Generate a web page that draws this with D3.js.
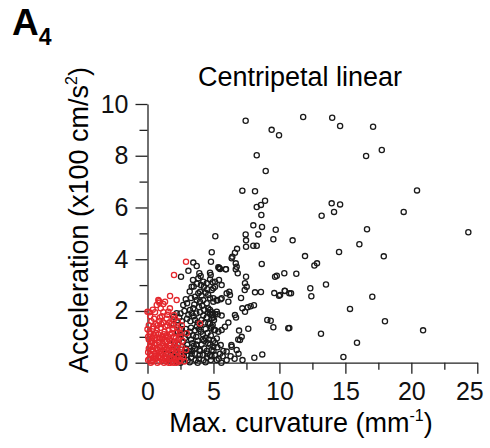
<!DOCTYPE html>
<html>
<head>
<meta charset="utf-8">
<script src="https://cdn.jsdelivr.net/npm/d3@7"></script>
<style>
  body { margin: 0; background: #fff; }
  text { font-family: "Liberation Sans", Arial, sans-serif; }
</style>
</head>
<body>
<div id="app"></div>
<script>
// black: all trials (x = max curvature, y = acceleration)
const blackSparse = [
  [11.8,9.5],[14.0,9.47],[14.6,9.15],[17.1,9.12],[7.44,9.35],[9.41,9.0],[9.97,8.79],[8.28,8.02],
  [17.76,8.22],[16.57,7.99],[8.96,7.41],[7.19,6.65],[8.15,6.63],[20.43,6.66],[8.91,6.26],[8.6,6.1],
  [8.28,6.02],[13.96,6.16],[14.6,6.12],[14.14,5.83],[13.2,5.68],[19.42,5.83],[8.63,5.71],[8.02,5.31],
  [8.68,5.25],[9.72,5.14],[16.64,5.16],[24.32,5.04],[5.14,4.89],[7.44,4.96],[8.4,4.96],[7.47,4.73],
  [9.54,4.77],[11.0,4.73],[16.06,4.58],[7.47,4.48],[8.02,4.52],[8.28,4.52],[4.87,4.27],[6.79,4.4],
  [6.63,4.25],[6.43,4.1],[6.38,4.04],[11.94,4.12],[14.52,4.28],[17.91,4.11],
  [12.65,3.76],[12.85,3.84],[10.37,3.46],[11.28,3.44],[10.4,2.78],[10.88,2.68],[10.05,2.62],
  [12.34,2.88],[13.53,3.02],[12.42,2.57],[17.04,2.55],[15.35,2.08],[10.75,1.34],[13.15,1.12],
  [15.88,0.77],[14.85,0.22],[18.0,1.6],[20.89,1.25]
];
const blackMid = [
  [8.66,3.82],[4.81,3.9],[5.42,3.67],[5.5,3.62],[5.93,3.61],[6.69,3.84],[6.76,3.71],[6.69,3.61],
  [6.84,3.46],[9.67,3.32],[9.8,3.36],[7.47,3.32],[4.79,3.39],[4.94,3.11],[5.42,3.2],[5.62,3.0],
  [7.39,3.07],[7.52,2.94],[7.37,2.81],[8.15,2.72],[8.6,2.73],[9.61,2.69],[9.97,2.59],[10.42,2.77],
  [10.75,2.68],[5.12,2.94],[4.87,2.81],[4.99,2.88],[6.2,2.74],[6.25,2.62],[6.13,2.36],[5.62,2.49],
  [5.29,2.4],[4.99,2.49],[7.09,2.5],[7.19,2.1],[7.6,2.14],[7.82,2.18],[8.07,2.22],[4.74,2.04],
  [5.25,1.97],[4.87,1.84],[5.32,1.87],[5.62,1.82],[4.87,1.72],[5.04,1.65],[4.94,1.46],[4.74,1.52],
  [4.81,1.33],[5.04,1.26],[6.71,1.75],[6.13,1.55],[9.08,1.65],[9.34,1.62],[9.54,1.37],[10.67,1.33],
  [7.64,1.31],[6.94,1.24],[7.14,1.0],[6.88,0.9],[5.25,0.94],[5.12,0.75],[4.99,0.62],[5.55,0.68],
  [5.75,0.45],[6.0,0.43],[6.36,0.68],[8.1,0.19],[8.7,0.32],[4.87,0.49],[4.74,0.3],[7.01,0.88],
  [6.38,0.62],[6.76,0.49],[7.39,1.97],[6.63,1.84],[4.66,0.9]
];
const blackDense = [
  [3.47,3.87],[3.73,3.74],[2.54,3.32],[3.93,3.46],[4.03,3.35],[3.85,3.26],[4.74,3.48],[5.37,3.69],
  [5.45,3.65],[5.95,3.61],[3.1,3.55],
  [4.23,3.13],[4.49,3.07],[4.74,3.22],[5.12,3.13],[4.28,2.94],[4.53,2.84],[3.98,2.74],[3.85,2.68],
  [3.35,2.94],[4.1,2.6],[3.6,2.55],[4.6,2.62],
  [3.73,2.42],[3.98,2.36],[4.23,2.42],[4.49,2.3],[4.74,2.49],[4.99,2.36],[5.25,2.42],[5.55,2.45],
  [6.0,2.68],[2.71,2.23],[3.22,2.04],[3.47,2.1],[3.9,2.15],[4.3,2.05],[4.6,2.1],[2.9,2.45],
  [2.21,1.91],[1.96,1.78],[3.35,1.91],[3.98,1.95],[4.23,1.82],[4.49,1.75],[4.74,1.88],[4.99,1.75],
  [5.12,1.88],[4.86,1.95],[2.6,1.6],[3.0,1.7],[3.6,1.65],[3.8,1.55],[2.4,1.75],
  [4.61,1.52],[4.86,1.39],[5.12,1.26],[5.37,1.2],[5.62,1.26],[5.87,1.39],[2.6,1.3],[2.8,1.15],
  [3.1,1.05],[3.3,1.35],[3.6,1.25],[3.9,1.3],[4.2,1.1],[4.4,1.3],[2.3,1.2],[3.7,1.0],[4.0,1.45],
  [2.4,0.9],[2.7,0.8],[3.0,0.7],[3.3,0.9],[3.5,0.65],[3.8,0.85],[4.1,0.7],[4.4,0.95],[4.6,0.75],
  [2.2,0.6],[2.9,0.55],[3.6,0.55],[4.3,0.55],[5.3,0.6],[2.0,0.8],
  [1.8,0.3],[2.1,0.2],[2.4,0.35],[2.7,0.15],[3.0,0.3],[3.3,0.2],[3.6,0.35],[3.9,0.15],[4.2,0.3],
  [4.5,0.2],[4.8,0.1],[5.1,0.3],[5.4,0.15],[5.7,0.25],[6.0,0.1],[6.3,0.25],[6.6,0.15],[6.9,0.35],
  [7.2,0.1],[2.2,0.05],[2.8,0.4],[3.4,0.45],[4.0,0.45],[5.0,0.45],[1.6,0.1],[1.4,0.35],
  [2.5,0.0],[3.2,0.02],[3.8,0.0],[4.4,0.02],[5.6,0.0],
  [2.0,1.5],[2.3,1.45],[2.5,1.9],[2.8,2.0],[3.1,1.85],[3.25,1.6],[3.5,1.8],[3.7,1.9],[4.1,1.65],
  [4.35,1.55],[4.6,1.95],[2.5,1.1],[2.9,1.3],[3.2,1.2],[3.45,1.05],[3.75,1.4],[4.05,1.2],[4.3,0.85],
  [4.55,1.15],[4.8,1.05],[2.3,0.7],[2.6,0.5],[2.85,0.95],[3.15,0.45],[3.4,0.75],[3.7,0.7],[3.95,0.5],
  [4.2,0.9],[4.5,0.45],[4.75,0.7],[5.0,0.85],[1.9,0.5],[2.15,0.4],[2.45,0.15],[2.75,0.3],[3.05,0.1],
  [3.35,0.35],[3.65,0.1],[3.95,0.3],[4.25,0.1],[4.55,0.35],[4.85,0.25],[5.25,0.1],[5.5,0.35],
  [3.0,2.3],[3.3,2.5],[3.55,2.25],[3.2,2.75],[3.5,2.95],[3.75,3.05],[4.05,3.0],[4.4,2.7],[4.15,2.2],
  [3.45,3.2]
];
// red: linear subset
const redPts = [
  [2.92,3.9],[2.01,3.39],[1.71,2.58],[0.82,2.42],[0.9,2.32],[1.2,2.27],[0.7,2.23],[0.14,1.95],
  [0.57,1.95],[1.2,1.95],[1.58,1.97],[2.01,1.84],[2.08,1.72],[0,1.29],[2.41,1.29],[2.97,1.14],
  [3.98,1.52],[2.92,0.49],[1.33,2.36],[0.87,2.38],[2.21,2.42],[1.96,1.65],[0,1.97],
  [0.3,1.6],[0.6,1.5],[0.9,1.6],[1.2,1.55],[1.5,1.45],[1.8,1.5],[0.4,1.3],[0.7,1.25],[1.0,1.35],
  [1.3,1.2],[1.6,1.25],[1.9,1.3],[2.2,1.15],[0.2,1.1],[0.5,1.05],[0.8,1.1],[1.1,1.0],[1.4,1.05],
  [1.7,1.1],[2.0,1.0],[2.5,1.0],[0.1,1.45],[1.45,1.7],[0.95,1.75],
  [0.1,0.9],[0.35,0.85],[0.6,0.95],[0.85,0.8],[1.1,0.9],[1.35,0.8],[1.6,0.9],[1.85,0.85],[2.1,0.8],
  [2.35,0.75],[0.2,0.65],[0.45,0.6],[0.7,0.7],[0.95,0.6],[1.2,0.65],[1.45,0.55],[1.7,0.65],
  [1.95,0.6],[2.2,0.55],[2.6,0.6],[0.3,0.5],[0.8,0.5],[1.3,0.5],[1.8,0.45],
  [0.05,0.4],[0.3,0.3],[0.55,0.35],[0.8,0.25],[1.05,0.35],[1.3,0.25],[1.55,0.3],[1.8,0.2],[2.05,0.3],
  [2.3,0.2],[2.55,0.3],[0.15,0.15],[0.4,0.1],[0.65,0.15],[0.9,0.05],[1.15,0.1],[1.4,0.05],
  [1.65,0.12],[1.9,0.05],[2.15,0.1],[2.4,0.05],[0.25,0.0],[0.75,0.0],[1.25,0.0],[1.75,0.0],[2.2,0.0],
  [0.15,1.2],[0.45,1.4],[0.75,1.45],[1.05,1.5],[1.35,1.4],[1.65,1.55],[1.95,1.45],[2.25,1.35],
  [0.05,1.0],[0.35,0.95],[0.65,1.15],[0.95,0.95],[1.25,1.1],[1.55,1.0],[1.85,1.15],[2.15,0.95],
  [2.45,1.15],[0.25,0.8],[0.55,0.75],[0.85,0.95],[1.15,0.75],[1.45,0.85],[1.75,0.75],[2.05,0.7],
  [2.35,0.9],[2.65,0.85],[0.1,0.55],[0.4,0.45],[0.7,0.55],[1.0,0.45],[1.3,0.6],[1.6,0.5],[1.9,0.55],
  [2.2,0.45],[2.5,0.5],[0.2,0.35],[0.5,0.2],[0.85,0.4],[1.15,0.3],[1.45,0.2],[1.75,0.35],[2.0,0.15],
  [2.3,0.4],[2.7,0.2],[0.05,0.1],[0.35,0.05],[0.6,0.25],[1.0,0.2],[1.3,0.15],[1.6,0.0],[2.0,0.0],
  [2.5,0.1],[2.8,0.05],[0.5,1.7],[0.2,1.8],[1.1,1.8],[1.5,1.85],[1.7,2.1],[1.0,2.1],[0.4,2.05],
  [2.3,1.6],[2.6,1.45]
];

const xTicks = [0, 5, 10, 15, 20, 25];
const xMinor = [2.5, 7.5, 12.5, 17.5, 22.5];
const yTicks = [0, 2, 4, 6, 8, 10];
const yMinor = [1, 3, 5, 7, 9];

const svg = d3.select('#app').append('svg')
  .attr('width', 490)
  .attr('height', 448);

const x = d3.scaleLinear().domain([0, 25]).range([147.5, 477.3]);
const y = d3.scaleLinear().domain([0, 10]).range([362.7, 104]);

const AXIS_COLOR = '#222';

const styleAxis = (g) => {
  g.selectAll('path, line').attr('stroke', AXIS_COLOR).attr('stroke-width', 1.3);
  g.selectAll('text').attr('font-size', 25).attr('fill', '#111')
    .attr('font-family', '"Liberation Sans", Arial, sans-serif');
};

// x axis
svg.append('g')
  .attr('transform', `translate(0, ${y(0)})`)
  .call(d3.axisBottom(x).tickValues(xTicks).tickSize(11).tickPadding(9).tickSizeOuter(0))
  .call(styleAxis)
  // last label pulled in so it stays inside the panel, as in the original
  .call((g) => g.selectAll('.tick text').filter((d) => d === 25).attr('dx', -8));
svg.append('g')
  .attr('transform', `translate(0, ${y(0)})`)
  .call(d3.axisBottom(x).tickValues(xMinor).tickSize(7).tickFormat('').tickSizeOuter(0))
  .call((g) => g.select('.domain').remove())
  .call(styleAxis);

// y axis
svg.append('g')
  .attr('transform', `translate(${x(0)}, 0)`)
  .call(d3.axisLeft(y).tickValues(yTicks).tickSize(12).tickPadding(7).tickSizeOuter(0))
  .call(styleAxis);
svg.append('g')
  .attr('transform', `translate(${x(0)}, 0)`)
  .call(d3.axisLeft(y).tickValues(yMinor).tickSize(8).tickFormat('').tickSizeOuter(0))
  .call((g) => g.select('.domain').remove())
  .call(styleAxis);

// points
const drawPts = (data, color) => {
  svg.append('g')
    .selectAll('circle')
    .data(data)
    .join('circle')
    .attr('cx', (d) => x(d[0]))
    .attr('cy', (d) => y(d[1]))
    .attr('r', 2.6)
    .attr('fill', 'none')
    .attr('stroke', color)
    .attr('stroke-width', 1.3);
};
drawPts(blackSparse.concat(blackMid, blackDense), '#1a1a1a');
drawPts(redPts, '#e4262c');

// title
svg.append('text')
  .attr('x', 300).attr('y', 86)
  .attr('text-anchor', 'middle')
  .attr('font-size', 27)
  .text('Centripetal linear');

// x label
const xl = svg.append('text')
  .attr('x', 301).attr('y', 432)
  .attr('text-anchor', 'middle')
  .attr('font-size', 27);
xl.append('tspan').text('Max. curvature (mm');
xl.append('tspan').attr('font-size', 16).attr('dy', -11).text('-1');
xl.append('tspan').attr('dy', 11).text(')');

// y label
const yl = svg.append('text')
  .attr('transform', 'translate(88, 220) rotate(-90)')
  .attr('text-anchor', 'middle')
  .attr('font-size', 27);
yl.append('tspan').text('Acceleration (x100 cm/s');
yl.append('tspan').attr('font-size', 16).attr('dy', -11).text('2');
yl.append('tspan').attr('dy', 11).text(')');

// panel label
const pl = svg.append('text')
  .attr('x', 12).attr('y', 35)
  .attr('font-size', 37)
  .attr('font-weight', 'bold');
pl.append('tspan').text('A');
pl.append('tspan').attr('font-size', 23).attr('dy', 10).text('4');
</script>
</body>
</html>
